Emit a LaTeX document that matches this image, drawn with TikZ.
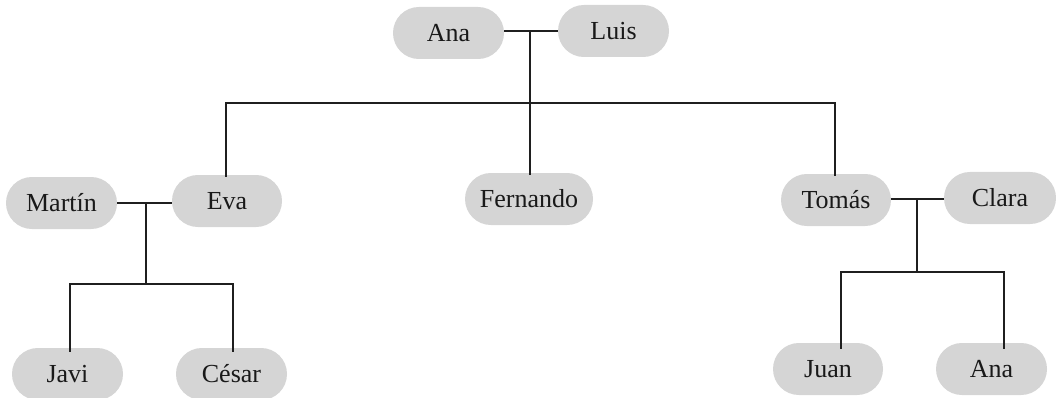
\documentclass[tikz,border=0pt]{standalone}
\usepackage{fontspec}
\setmainfont{Liberation Serif}
\begin{document}
\begin{tikzpicture}[x=1pt,y=-1pt,
  person/.style={fill=boxgray, draw=none, rounded corners=25.9pt, minimum height=52pt, minimum width=111pt, inner sep=0pt, font=\fontsize{26}{30}\selectfont, text=black!90},
  link/.style={line width=2pt, draw=black!88}]
\definecolor{boxgray}{HTML}{D5D5D5}
\useasboundingbox (0,0) rectangle (1056,398);
% row 1
\node[person] (ana) at (448.5,33) {Ana};
\node[person] (luis) at (613.5,31) {Luis};
% row 2
\node[person] (martin) at (61.5,203) {Martín};
\node[person, minimum width=110pt] (eva) at (227,201) {Eva};
\node[person, minimum width=128pt] (fernando) at (529,199) {Fernando};
\node[person, minimum width=110pt] (tomas) at (836,200) {Tomás};
\node[person, minimum width=112pt] (clara) at (1000,198) {Clara};
% row 3
\node[person] (javi) at (67.5,374) {Javi};
\node[person] (cesar) at (231.5,374) {César};
\node[person, minimum width=110pt] (juan) at (828,369) {Juan};
\node[person] (ana2) at (991.5,369) {Ana};
% junction coordinates
\coordinate (j1) at (530,31);
\coordinate (h1) at (530,103);
\coordinate (j2) at (146,203);
\coordinate (h2) at (146,284);
\coordinate (j3) at (917,199);
\coordinate (h3) at (917,272);
% top family
\draw[link] (ana.east |- j1) -- (luis.west |- j1);
\draw[link] (j1) -- (h1);
\draw[link] ([xshift=-1pt,yshift=-2pt]eva.north) |- (h1) -| ([xshift=-1pt,yshift=-2pt]tomas.north);
\draw[link] (h1) -- ([xshift=1pt,yshift=-2pt]fernando.north);
% Martín & Eva
\draw[link] (martin.east |- j2) -- (eva.west |- j2);
\draw[link] (j2) -- (h2);
\draw[link] ([xshift=2.5pt,yshift=-4pt]javi.north) |- (h2) -| ([xshift=1.5pt,yshift=-4pt]cesar.north);
% Tomás & Clara
\draw[link] (tomas.east |- j3) -- (clara.west |- j3);
\draw[link] (j3) -- (h3);
\draw[link] ([xshift=13pt,yshift=-6pt]juan.north) |- (h3) -| ([xshift=12.5pt,yshift=-6pt]ana2.north);
\end{tikzpicture}
\end{document}
